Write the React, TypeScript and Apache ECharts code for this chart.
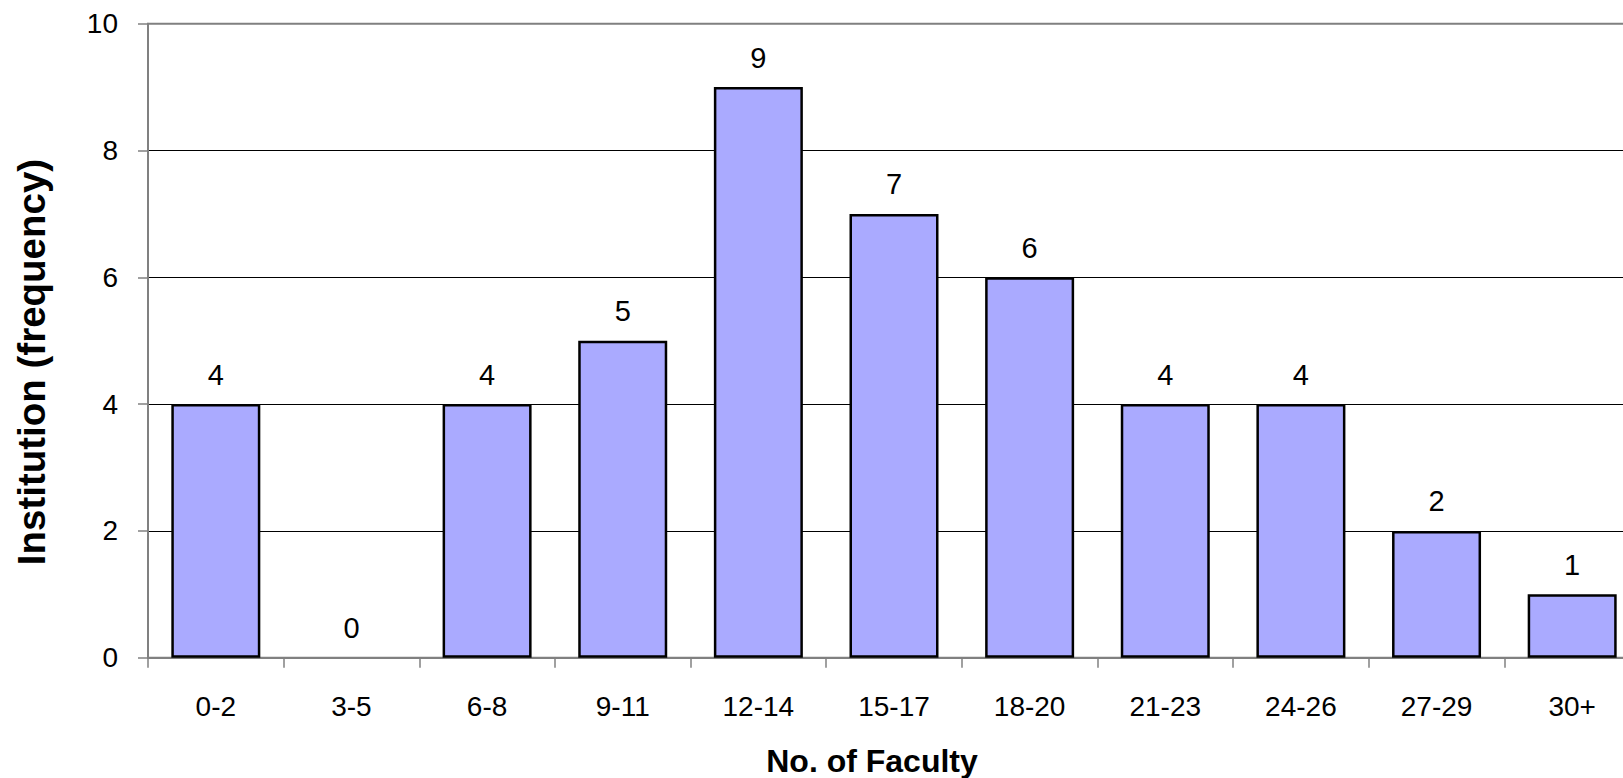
import React, { useEffect, useRef } from "react";
import * as echarts from "echarts";

const categories = ["0-2", "3-5", "6-8", "9-11", "12-14", "15-17", "18-20", "21-23", "24-26", "27-29", "30+"];
const frequencies = [4, 0, 4, 5, 9, 7, 6, 4, 4, 2, 1];
const xTitle = "No. of Faculty";
const yTitle = "Institution (frequency)";

const FONT = 'Arial, "Liberation Sans", sans-serif';

export default function App() {
  const ref = useRef<HTMLDivElement>(null);
  useEffect(() => {
    if (!ref.current) return;
    const chart = echarts.init(ref.current, undefined, { renderer: "svg" });
    chart.setOption({
      animation: false,
      backgroundColor: "#ffffff",
      textStyle: { fontFamily: FONT },
      grid: {
        left: 148,
        top: 23.7,
        right: 0,
        bottom: 120.3,
        show: true,
        borderColor: "#808080",
        borderWidth: 2,
        backgroundColor: "transparent",
      },
      xAxis: {
        type: "category",
        data: categories,
        boundaryGap: true,
        axisLine: { show: true, lineStyle: { color: "#808080", width: 2 } },
        axisTick: { show: true, length: 10, alignWithLabel: false, lineStyle: { color: "#808080", width: 1.5 } },
        axisLabel: { color: "#000", fontSize: 28, fontFamily: FONT, margin: 35, interval: 0 },
        splitLine: { show: false },
      },
      yAxis: {
        type: "value",
        min: 0,
        max: 10,
        interval: 2,
        axisLine: { show: true, lineStyle: { color: "#808080", width: 2 } },
        axisTick: { show: true, length: 10, lineStyle: { color: "#808080", width: 1.5 } },
        axisLabel: { color: "#000", fontSize: 28, fontFamily: FONT, margin: 30, padding: [5, 0, 0, 0] },
        splitLine: { show: true, showMaxLine: false, showMinLine: false, lineStyle: { color: "#000", width: 1 } },
      },
      series: [
        {
          type: "bar",
          data: frequencies.map((v) => (v === 0 ? { value: v, itemStyle: { borderWidth: 0 } } : v)),
          barWidth: 89,
          itemStyle: { color: "#AAAAFF", borderColor: "#000", borderWidth: 2.5 },
          label: {
            show: true,
            position: "top",
            distance: 15,
            color: "#000",
            fontSize: 29,
            fontFamily: FONT,
          },
        },
      ],
      graphic: [
        {
          type: "text",
          x: 872,
          y: 761,
          style: {
            text: xTitle,
            fontSize: 32,
            fontWeight: "bold",
            fontFamily: FONT,
            fill: "#000",
            textAlign: "center",
            textVerticalAlign: "middle",
          },
        },
        {
          type: "text",
          x: 31,
          y: 362,
          rotation: Math.PI / 2,
          style: {
            text: yTitle,
            fontSize: 38.5,
            fontWeight: "bold",
            fontFamily: FONT,
            fill: "#000",
            textAlign: "center",
            textVerticalAlign: "middle",
          },
        },
      ],
    });
    return () => chart.dispose();
  }, []);
  return (
    <div style={{ position: "absolute", left: 0, top: 0, width: 1623, height: 778, overflow: "hidden", background: "#fff" }}>
      <div ref={ref} style={{ position: "absolute", left: 0, top: 0, width: 1640, height: 778 }} />
    </div>
  );
}
